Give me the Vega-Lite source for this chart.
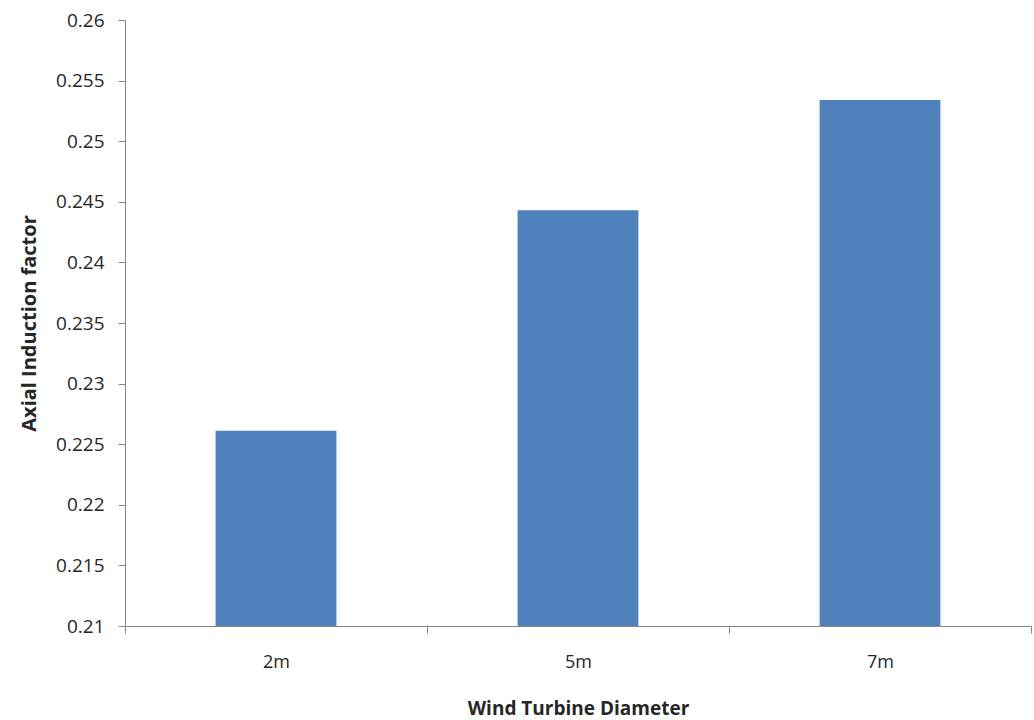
{
  "$schema": "https://vega.github.io/schema/vega-lite/v6.json",
  "autosize": "none",
  "padding": {"left": 125, "top": 20, "right": 3, "bottom": 94},
  "width": 906,
  "height": 606,
  "background": "white",
  "data": {
    "values": [
      {"diameter": "2m", "factor": 0.2261},
      {"diameter": "5m", "factor": 0.2443},
      {"diameter": "7m", "factor": 0.2534}
    ]
  },
  "mark": {"type": "bar", "color": "#4F81BD", "clip": true, "width": {"band": 0.4}},
  "encoding": {
    "x": {
      "field": "diameter",
      "type": "nominal",
      "sort": null,
      "scale": {"paddingInner": 0, "paddingOuter": 0},
      "axis": {
        "title": "Wind Turbine Diameter",
        "titleFontSize": 19,
        "labelAngle": 0,
        "tickBand": "extent",
        "tickSize": 7,
        "labelPadding": 20,
        "titlePadding": 28
      }
    },
    "y": {
      "field": "factor",
      "type": "quantitative",
      "scale": {"domain": [0.21, 0.26], "zero": false, "nice": false},
      "axis": {
        "title": "Axial Induction factor",
        "titleFontSize": 20,
        "values": [0.21, 0.215, 0.22, 0.225, 0.23, 0.235, 0.24, 0.245, 0.25, 0.255, 0.26],
        "format": "~g",
        "grid": false,
        "tickSize": 7,
        "labelPadding": 14,
        "labelFontSize": 19,
        "titlePadding": 16
      }
    }
  },
  "config": {
    "view": {"stroke": null},
    "axis": {
      "domainColor": "#868686",
      "tickColor": "#868686",
      "labelFont": "Open Sans",
      "labelFontSize": 18,
      "labelColor": "#262626",
      "titleFont": "Open Sans",
      "titleFontSize": 18,
      "titleFontWeight": "bold",
      "titleColor": "#262626"
    }
  }
}
